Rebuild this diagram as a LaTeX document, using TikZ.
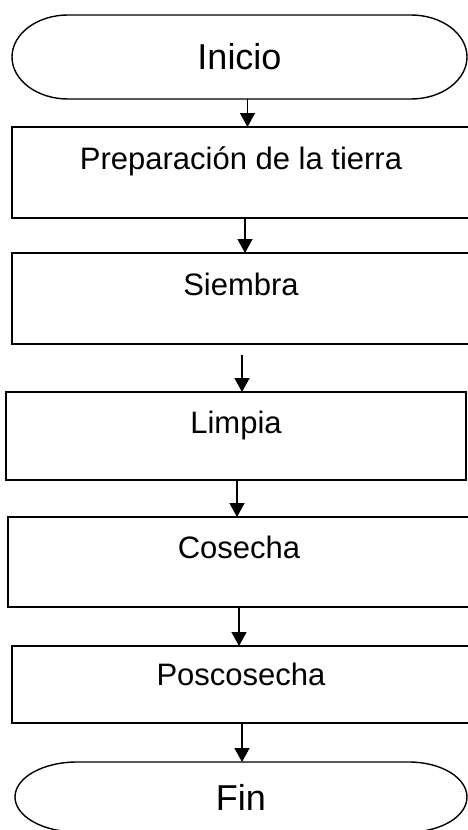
\documentclass[tikz,border=0pt]{standalone}
\usepackage{fontspec}
\setmainfont{Liberation Sans}
\usetikzlibrary{arrows.meta}

\begin{document}
\begin{tikzpicture}[x=1pt, y=-1pt,
    outline/.style={line width=1.4pt, line join=round},
    terminal/.style={inner sep=0pt, outer sep=0pt, font=\fontsize{36pt}{42pt}\selectfont},
    stepbox/.style={draw, line width=1.6pt, inner sep=0pt, outer sep=0pt,
      text height=23pt, text depth=30pt, font=\fontsize{31pt}{37pt}\selectfont},
    flow/.style={line width=1.4pt, -{Triangle[width=15pt, length=14pt]}}]
  \useasboundingbox (0,0) rectangle (467,830);

  \node[terminal, minimum width=455pt, minimum height=84pt] (inicio) at (239.5, 57) {Inicio};
  \node[stepbox, minimum width=458pt, minimum height=91pt] (prep)    at (241, 172.5) {Preparación de la tierra};
  \node[stepbox, minimum width=458pt, minimum height=91pt] (siembra) at (241, 298.5) {Siembra};
  \node[stepbox, minimum width=460pt, minimum height=88pt, text depth=29pt] (limpia) at (236, 436) {Limpia};
  \node[stepbox, minimum width=462pt, minimum height=90pt] (cosecha) at (239, 562) {Cosecha};
  \node[stepbox, minimum width=458pt, minimum height=77pt, text depth=21pt] (poscosecha) at (241, 684.5) {Poscosecha};
  \node[terminal, minimum width=452pt, minimum height=70pt] (fin) at (241, 797) {Fin};

  \draw[outline] ([xshift=56pt]inicio.north west) -- ([xshift=-56pt]inicio.north east)
    arc[start angle=90, end angle=-90, x radius=56pt, y radius=42pt]
    -- ([xshift=56pt]inicio.south west)
    arc[start angle=270, end angle=90, x radius=56pt, y radius=42pt] -- cycle;
  \draw[outline] ([xshift=62pt]fin.north west) -- ([xshift=-58pt]fin.north east)
    arc[start angle=90, end angle=-90, x radius=58pt, y radius=35pt]
    -- ([xshift=62pt]fin.south west)
    arc[start angle=270, end angle=90, x radius=62pt, y radius=35pt] -- cycle;

  \draw[flow] ([xshift=8pt]inicio.south) -- ([xshift=8pt]inicio.south |- prep.north);
  \draw[flow] ([xshift=4pt]prep.south) -- ([xshift=4pt]prep.south |- siembra.north);
  \draw[flow] ([shift={(1,11)}]siembra.south) -- ([xshift=1pt]siembra.south |- limpia.north);
  \draw[flow] ([xshift=1pt]limpia.south) -- ([xshift=1pt]limpia.south |- cosecha.north);
  \draw[flow] (cosecha.south) -- (cosecha.south |- poscosecha.north);
  \draw[flow] ([xshift=1pt]poscosecha.south) -- ([xshift=1pt]poscosecha.south |- fin.north);
\end{tikzpicture}
\end{document}
